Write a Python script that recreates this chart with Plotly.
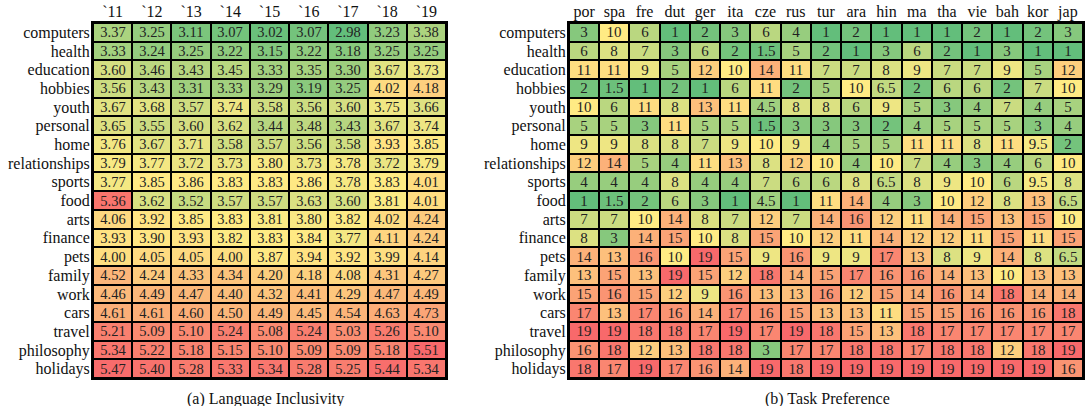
import numpy as np
import plotly.graph_objects as go

topics = ["computers", "health", "education", "hobbies", "youth", "personal", "home",
          "relationships", "sports", "food", "arts", "finance", "pets", "family", "work",
          "cars", "travel", "philosophy", "holidays"]

years = ["`11", "`12", "`13", "`14", "`15", "`16", "`17", "`18", "`19"]

inclusivity = [
    [3.37, 3.25, 3.11, 3.07, 3.02, 3.07, 2.98, 3.23, 3.38],
    [3.33, 3.24, 3.25, 3.22, 3.15, 3.22, 3.18, 3.25, 3.25],
    [3.60, 3.46, 3.43, 3.45, 3.33, 3.35, 3.30, 3.67, 3.73],
    [3.56, 3.43, 3.31, 3.33, 3.29, 3.19, 3.25, 4.02, 4.18],
    [3.67, 3.68, 3.57, 3.74, 3.58, 3.56, 3.60, 3.75, 3.66],
    [3.65, 3.55, 3.60, 3.62, 3.44, 3.48, 3.43, 3.67, 3.74],
    [3.76, 3.67, 3.71, 3.58, 3.57, 3.56, 3.58, 3.93, 3.85],
    [3.79, 3.77, 3.72, 3.73, 3.80, 3.73, 3.78, 3.72, 3.79],
    [3.77, 3.85, 3.86, 3.83, 3.83, 3.86, 3.78, 3.83, 4.01],
    [5.36, 3.62, 3.52, 3.57, 3.57, 3.63, 3.60, 3.81, 4.01],
    [4.06, 3.92, 3.85, 3.83, 3.81, 3.80, 3.82, 4.02, 4.24],
    [3.93, 3.90, 3.93, 3.82, 3.83, 3.84, 3.77, 4.11, 4.24],
    [4.00, 4.05, 4.05, 4.00, 3.87, 3.94, 3.92, 3.99, 4.14],
    [4.52, 4.24, 4.33, 4.34, 4.20, 4.18, 4.08, 4.31, 4.27],
    [4.46, 4.49, 4.47, 4.40, 4.32, 4.41, 4.29, 4.47, 4.49],
    [4.61, 4.61, 4.60, 4.50, 4.49, 4.45, 4.54, 4.63, 4.73],
    [5.21, 5.09, 5.10, 5.24, 5.08, 5.24, 5.03, 5.26, 5.10],
    [5.34, 5.22, 5.18, 5.15, 5.10, 5.09, 5.09, 5.18, 5.51],
    [5.47, 5.40, 5.28, 5.33, 5.34, 5.28, 5.25, 5.44, 5.34],
]

languages = ["por", "spa", "fre", "dut", "ger", "ita", "cze", "rus", "tur", "ara",
             "hin", "ma", "tha", "vie", "bah", "kor", "jap"]

preference = [
    [3, 10, 6, 1, 2, 3, 6, 4, 1, 2, 1, 1, 1, 2, 1, 2, 3],
    [6, 8, 7, 3, 6, 2, 1.5, 5, 2, 1, 3, 6, 2, 1, 3, 1, 1],
    [11, 11, 9, 5, 12, 10, 14, 11, 7, 7, 8, 9, 7, 7, 9, 5, 12],
    [2, 1.5, 1, 2, 1, 6, 11, 2, 5, 10, 6.5, 2, 6, 6, 2, 7, 10],
    [10, 6, 11, 8, 13, 11, 4.5, 8, 8, 6, 9, 5, 3, 4, 7, 4, 5],
    [5, 5, 3, 11, 5, 5, 1.5, 3, 3, 3, 2, 4, 5, 5, 5, 3, 4],
    [9, 9, 8, 8, 7, 9, 10, 9, 4, 5, 5, 11, 11, 8, 11, 9.5, 2],
    [12, 14, 5, 4, 11, 13, 8, 12, 10, 4, 10, 7, 4, 3, 4, 6, 10],
    [4, 4, 4, 8, 4, 4, 7, 6, 6, 8, 6.5, 8, 9, 10, 6, 9.5, 8],
    [1, 1.5, 2, 6, 3, 1, 4.5, 1, 11, 14, 4, 3, 10, 12, 8, 13, 6.5],
    [7, 7, 10, 14, 8, 7, 12, 7, 14, 16, 12, 11, 14, 15, 13, 15, 10],
    [8, 3, 14, 15, 10, 8, 15, 10, 12, 11, 14, 12, 12, 11, 15, 11, 15],
    [14, 13, 16, 10, 19, 15, 9, 16, 9, 9, 17, 13, 8, 9, 14, 8, 6.5],
    [13, 15, 13, 19, 15, 12, 18, 14, 15, 17, 16, 16, 14, 13, 10, 13, 13],
    [15, 16, 15, 12, 9, 16, 13, 13, 16, 12, 15, 14, 16, 14, 18, 14, 14],
    [17, 13, 17, 16, 14, 17, 16, 15, 13, 13, 11, 15, 15, 16, 16, 16, 18],
    [19, 19, 18, 18, 17, 19, 17, 19, 18, 15, 13, 18, 17, 17, 17, 17, 17],
    [16, 18, 12, 13, 18, 18, 3, 17, 17, 18, 18, 17, 18, 18, 12, 18, 19],
    [18, 17, 19, 17, 16, 14, 19, 18, 19, 19, 19, 19, 19, 19, 19, 19, 16],
]

GREEN, YELLOW, RED = "#63BE7B", "#FFEB84", "#F8696B"
FONT = "Liberation Serif"

W, H = 1085, 406


def px_x(v):
    return v / W


def px_y(v):
    return 1 - v / H


def scale_for(z):
    a = np.array(z, dtype=float)
    lo, hi, mid = a.min(), a.max(), np.median(a)
    f = (mid - lo) / (hi - lo)
    return [[0, GREEN], [f, YELLOW], [1, RED]], lo, hi


cs1, lo1, hi1 = scale_for(inclusivity)
cs2, lo2, hi2 = scale_for(preference)

fig = go.Figure()
fig.add_trace(go.Heatmap(
    z=inclusivity, x=years, y=topics, colorscale=cs1, zmin=lo1, zmax=hi1,
    showscale=False, xgap=2, ygap=2, texttemplate="%{z:.2f}",
    textfont=dict(family=FONT, size=14.5, color="#222"), hoverinfo="skip",
    xaxis="x", yaxis="y"))
fig.add_trace(go.Heatmap(
    z=preference, x=languages, y=topics, colorscale=cs2, zmin=lo2, zmax=hi2,
    showscale=False, xgap=2, ygap=2, texttemplate="%{z}",
    textfont=dict(family=FONT, size=15, color="#222"), hoverinfo="skip",
    xaxis="x2", yaxis="y2"))

ax_common = dict(showline=True, mirror=True, linecolor="black", linewidth=2,
                 showgrid=False, zeroline=False, ticks="", automargin=False,
                 tickmode="linear", tick0=0, dtick=1, ticklabelstandoff=-2,
                 tickfont=dict(family=FONT, size=16, color="#111"))
ydom = [px_y(378), px_y(23)]

fig.update_layout(
    width=W, height=H,
    margin=dict(l=0, r=0, t=0, b=0),
    paper_bgcolor="white", plot_bgcolor="black",
    xaxis=dict(domain=[px_x(93), px_x(446)], side="top", anchor="y", **ax_common),
    yaxis=dict(domain=ydom, autorange="reversed", anchor="x", **ax_common),
    xaxis2=dict(domain=[px_x(569), px_x(1083)], side="top", anchor="y2", **ax_common),
    yaxis2=dict(domain=ydom, autorange="reversed", anchor="x2", **ax_common),
    annotations=[
        dict(text="(a) Language Inclusivity", xref="paper", yref="paper",
             x=px_x(265), y=px_y(399), xanchor="center", yanchor="middle",
             showarrow=False, font=dict(family=FONT, size=16, color="#111")),
        dict(text="(b) Task Preference", xref="paper", yref="paper",
             x=px_x(827), y=px_y(399), xanchor="center", yanchor="middle",
             showarrow=False, font=dict(family=FONT, size=16, color="#111")),
    ],
)

fig.write_html("out.html",
               config={"displayModeBar": False},
               post_script="document.body.style.margin='0';document.body.style.overflow='hidden';")
